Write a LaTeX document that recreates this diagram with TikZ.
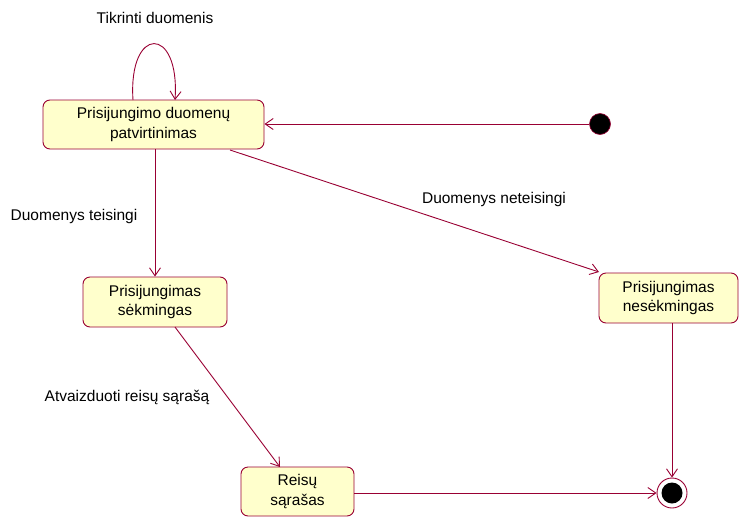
\documentclass[tikz,border=0pt]{standalone}
\usepackage{fontspec}
\setmainfont{Liberation Sans}
\usetikzlibrary{arrows.meta}
\definecolor{umlline}{HTML}{990033}
\definecolor{umlfill}{HTML}{FFFFCC}
\begin{document}
\begin{tikzpicture}[x=1pt,y=-1pt,
  font=\fontsize{15.5}{19.5}\selectfont,
  statebox/.style={draw=umlline,fill=umlfill,rounded corners=7pt,line width=0.9pt,
    align=center,inner sep=0pt},
  trans/.style={draw=umlline,line width=0.9pt,
    -{Straight Barb[length=8pt,width=11pt,line width=0.9pt]}},
  lbl/.style={inner sep=0pt}]
\useasboundingbox (0,0) rectangle (739,517);
% states
\node[statebox,minimum width=221pt,minimum height=49pt] (pat) at (153.5,124.5)
  {Prisijungimo duomenų\\patvirtinimas};
\node[statebox,minimum width=144pt,minimum height=50pt] (ok) at (155,302)
  {Prisijungimas\\sėkmingas};
\node[statebox,minimum width=139pt,minimum height=50pt] (fail) at (668.5,298)
  {Prisijungimas\\nesėkmingas};
\node[statebox,minimum width=113pt,minimum height=49pt] (list) at (297.5,491.5)
  {Reisų\\sąrašas};
% pseudo states
\node[circle,fill=black,draw=umlline,line width=0.6pt,minimum size=21pt,inner sep=0pt] (init) at (600,124) {};
\node[circle,draw=umlline,fill=white,line width=0.9pt,minimum size=30pt,inner sep=0pt] (final) at (672,493) {};
\node[circle,fill=black,minimum size=21pt,inner sep=0pt] (finaldot) at (final.center) {};
% transitions
\coordinate (loopa) at (133,100);
\coordinate (loopb) at (175,100);
\draw[trans] (loopa) .. controls (128,25) and (180,25) .. (loopb);
\node[lbl] (lt) at (155,18) {Tikrinti duomenis};
\draw[trans] (init) -- (pat.east |- init);
\coordinate (pa) at (155,149);
\draw[trans] (pa) -- (ok.north);
\node[lbl] (l1) at (74,216) {Duomenys teisingi};
\coordinate (pb) at (230,150);
\coordinate (fa) at (599,272);
\draw[trans] (pb) -- (fa);
\node[lbl] (l2) at (494,199) {Duomenys neteisingi};
\coordinate (oa) at (175,327);
\coordinate (lb) at (280,467);
\draw[trans] (oa) -- (lb);
\node[lbl] (l3) at (127,397) {Atvaizduoti reisų sąrašą};
\draw[trans] (list.east |- final) -- (final.west);
\draw[trans] (fail.south -| final) -- (final.north);
\end{tikzpicture}
\end{document}
